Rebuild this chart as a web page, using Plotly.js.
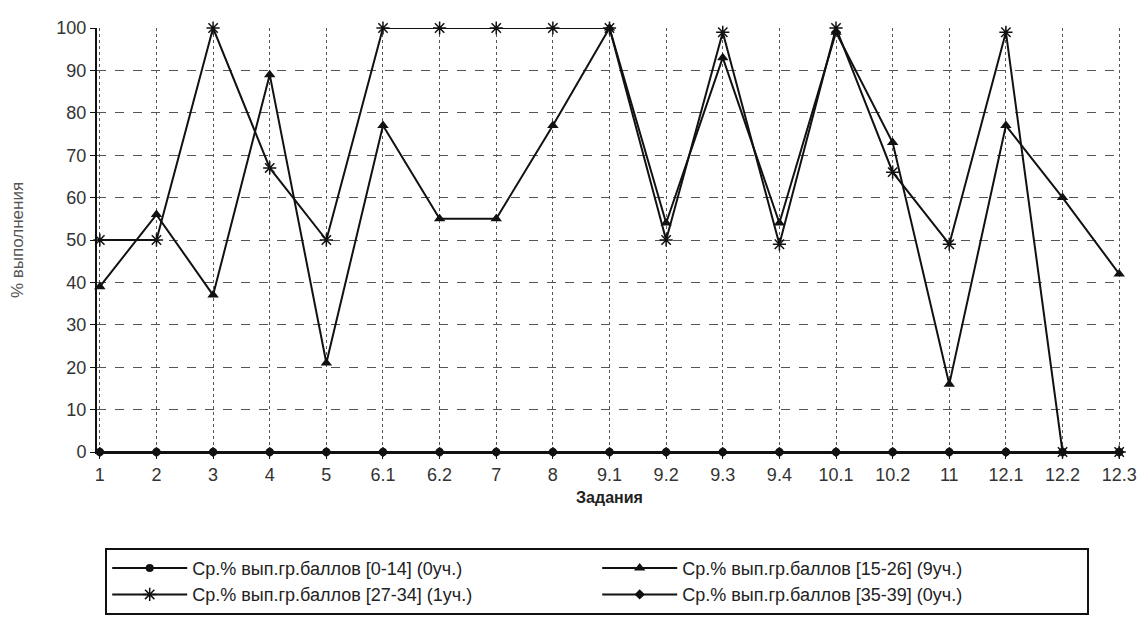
<!DOCTYPE html>
<html>
<head>
<meta charset="utf-8">
<script src="https://cdn.plot.ly/plotly-3.0.1.min.js"></script>
<style>html,body{margin:0;padding:0;background:#fff;}#chart{width:1142px;height:621px;}</style>
</head>
<body>
<div id="chart"></div>
<script>
var tasks = ["1","2","3","4","5","6.1","6.2","7","8","9.1","9.2","9.3","9.4","10.1","10.2","11","12.1","12.2","12.3"];
var group0_14  = [0,0,0,0,0,0,0,0,0,0,0,0,0,0,0,0,0,0,0];
var group15_26 = [39,56,37,89,21,77,55,55,77,100,54,93,54,99,73,16,77,60,42];
var group27_34 = [50,50,100,67,50,100,100,100,100,100,50,99,49,100,66,49,99,0,0];
var group35_39 = [0,0,0,0,0,0,0,0,0,0,0,0,0,0,0,0,0,0,0];
var names = [
  "Ср.% вып.гр.баллов [0-14] (0уч.)",
  "Ср.% вып.гр.баллов [15-26] (9уч.)",
  "Ср.% вып.гр.баллов [27-34] (1уч.)",
  "Ср.% вып.гр.баллов [35-39] (0уч.)"
];
var yTicks = [0,10,20,30,40,50,60,70,80,90,100];

function tr(y, name, sym, size, lw) {
  return {
    x: tasks, y: y, name: name, type: "scatter", mode: "lines+markers",
    line: {color: "#111", width: 2},
    marker: {symbol: sym, size: size, color: "#111", line: {color: "#111", width: lw}},
    cliponaxis: false
  };
}
var data = [
  tr(group0_14, names[0], "circle", 8, 0),
  tr(group15_26, names[1], "triangle-up", 10, 0),
  tr(group27_34, names[2], "asterisk-open", 11, 1.5),
  tr(group35_39, names[3], "diamond", 8, 0)
];
var layout = {
  width: 1142, height: 621,
  paper_bgcolor: "#fff", plot_bgcolor: "#fff",
  margin: {l: 97, r: 20, t: 28, b: 169, autoexpand: false},
  font: {family: "Liberation Sans, Arial, sans-serif", color: "#222"},
  showlegend: true,
  xaxis: {
    type: "category", range: [-0.05, 18.05], automargin: false,
    showgrid: true, gridcolor: "#555", griddash: "dot", gridwidth: 1,
    showline: true, linecolor: "#111", linewidth: 2,
    ticks: "outside", ticklen: 5, tickcolor: "#111",
    tickfont: {size: 18, color: "#333"},
    zeroline: false,
    title: {text: "<b>Задания</b>", font: {size: 16, color: "#222"}, standoff: 8}
  },
  yaxis: {
    range: [0, 100], tickvals: yTicks, ticktext: yTicks.map(String), automargin: false,
    showgrid: true, gridcolor: "#555", griddash: "dash", gridwidth: 1,
    showline: true, linecolor: "#111", linewidth: 2,
    ticks: "outside", ticklen: 5, tickcolor: "#111",
    tickfont: {size: 18, color: "#333"},
    zeroline: false,
    title: {text: "% выполнения", font: {size: 17, color: "#555"}, standoff: 28}
  },
  legend: {
    orientation: "h", x: 0.008, xanchor: "left", y: -0.226, yanchor: "top",
    entrywidth: 400, entrywidthmode: "pixels",
    bordercolor: "#111", borderwidth: 2, bgcolor: "#fff",
    font: {size: 18, color: "#222"}, traceorder: "normal",
    itemwidth: 75, tracegroupgap: 0
  }
};
Plotly.newPlot("chart", data, layout, {displayModeBar: false, staticPlot: true});
</script>
</body>
</html>
